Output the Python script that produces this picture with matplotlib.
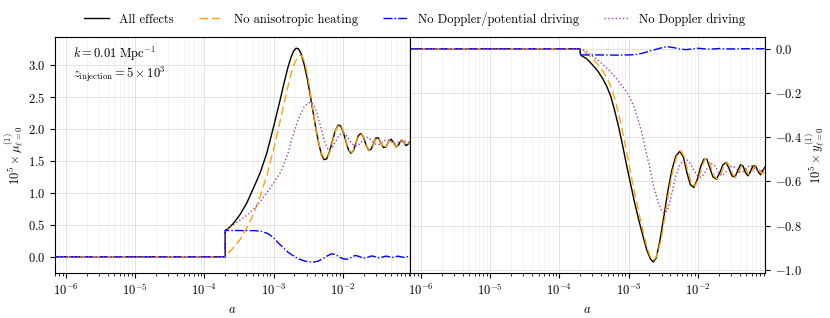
import matplotlib
matplotlib.use('Agg')
import matplotlib.pyplot as plt
import numpy as np

plt.rcParams['font.family'] = 'serif'
plt.rcParams['font.serif'] = ['cmr10']
plt.rcParams['mathtext.fontset'] = 'cm'
plt.rcParams['axes.formatter.use_mathtext'] = True
plt.rcParams['font.size'] = 9

# log10(a) nodes and values
# ---- left panel: 10^5 x mu ----
mu_all_lga = [-6.157, -3.699, -3.699, -3.658, -3.582, -3.485, -3.388, -3.293, -3.196, -3.099,
              -3.004, -2.907, -2.850, -2.792, -2.749, -2.712, -2.676, -2.640, -2.604, -2.561,
              -2.517, -2.474, -2.431, -2.387, -2.344, -2.308, -2.272, -2.236, -2.200, -2.156,
              -2.113, -2.070, -2.034, -1.997, -1.954, -1.918, -1.882, -1.846, -1.810, -1.774,
              -1.737, -1.701, -1.665, -1.629, -1.593, -1.557, -1.521, -1.485, -1.449, -1.412,
              -1.376, -1.340, -1.304, -1.268, -1.232, -1.196, -1.160, -1.124, -1.088, -1.059,
              -1.030]
mu_all = [0.0, 0.0, 0.41, 0.44, 0.52, 0.66, 0.84, 1.07, 1.31, 1.62,
          2.02, 2.45, 2.72, 2.97, 3.12, 3.22, 3.265, 3.255, 3.18, 3.02,
          2.80, 2.55, 2.27, 1.99, 1.75, 1.60, 1.52, 1.53, 1.62, 1.79,
          1.96, 2.06, 2.05, 1.96, 1.80, 1.67, 1.62, 1.66, 1.79, 1.90,
          1.93, 1.87, 1.75, 1.67, 1.68, 1.77, 1.86, 1.86, 1.77, 1.71,
          1.72, 1.80, 1.84, 1.79, 1.72, 1.75, 1.82, 1.80, 1.74, 1.76,
          1.80]

mu_noaniso_lga = [-6.157, -3.699, -3.658, -3.582, -3.485, -3.388, -3.293, -3.196, -3.099, -3.004,
                  -2.907, -2.850, -2.792, -2.749, -2.705, -2.662, -2.619, -2.582, -2.546, -2.510,
                  -2.474, -2.431, -2.387, -2.344, -2.301, -2.257, -2.221, -2.185, -2.142, -2.098,
                  -2.055, -2.019, -1.983, -1.940, -1.903, -1.867, -1.831, -1.795, -1.759, -1.723,
                  -1.687, -1.651, -1.615, -1.579, -1.543, -1.506, -1.470, -1.434, -1.398, -1.362,
                  -1.326, -1.290, -1.254, -1.218, -1.181, -1.145, -1.109, -1.073, -1.030]
mu_noaniso = [0.0, 0.0, 0.05, 0.14, 0.27, 0.45, 0.66, 0.94, 1.27, 1.66,
              2.12, 2.40, 2.67, 2.86, 3.01, 3.11, 3.155, 3.13, 3.03, 2.84,
              2.60, 2.29, 2.00, 1.76, 1.60, 1.53, 1.55, 1.65, 1.83, 1.99,
              2.07, 2.04, 1.93, 1.76, 1.66, 1.63, 1.70, 1.83, 1.92, 1.92,
              1.84, 1.72, 1.66, 1.70, 1.80, 1.87, 1.83, 1.74, 1.70, 1.75,
              1.83, 1.82, 1.75, 1.72, 1.78, 1.83, 1.78, 1.74, 1.79]

mu_nodp_lga = [-6.157, -3.699, -3.699, -3.485, -3.268, -3.167, -3.081, -3.004, -2.936, -2.860,
               -2.792, -2.715, -2.647, -2.571, -2.503, -2.426, -2.359, -2.286, -2.221, -2.164,
               -2.106, -2.041, -1.990, -1.940, -1.882, -1.824, -1.766, -1.704, -1.644, -1.586,
               -1.528, -1.477, -1.427, -1.376, -1.333, -1.290, -1.246, -1.203, -1.160, -1.116,
               -1.073, -1.030]
mu_nodp = [0.0, 0.0, 0.41, 0.41, 0.408, 0.395, 0.36, 0.30, 0.22, 0.14,
           0.07, 0.015, -0.03, -0.06, -0.08, -0.085, -0.07, -0.03, 0.015, 0.045,
           0.035, -0.01, -0.035, -0.04, -0.015, 0.02, 0.005, -0.025, -0.01, 0.012,
           0.0, -0.018, -0.005, 0.01, 0.0, -0.012, 0.0, 0.008, -0.002, -0.01,
           0.0, 0.005]

mu_nod_lga = [-6.157, -3.699, -3.699, -3.582, -3.485, -3.388, -3.293, -3.196, -3.099, -3.004,
              -2.907, -2.850, -2.792, -2.734, -2.676, -2.619, -2.561, -2.510, -2.467, -2.424,
              -2.380, -2.337, -2.294, -2.250, -2.207, -2.164, -2.113, -2.055, -1.997, -1.940,
              -1.882, -1.838, -1.795, -1.745, -1.694, -1.644, -1.593, -1.543, -1.492, -1.449,
              -1.398, -1.348, -1.304, -1.261, -1.218, -1.174, -1.131, -1.088, -1.030]
mu_nod = [0.0, 0.0, 0.41, 0.50, 0.57, 0.65, 0.74, 0.86, 1.00, 1.15,
          1.31, 1.45, 1.62, 1.85, 2.05, 2.22, 2.34, 2.40, 2.42, 2.38,
          2.27, 2.10, 1.92, 1.76, 1.67, 1.69, 1.79, 1.90, 1.94, 1.89,
          1.79, 1.74, 1.73, 1.78, 1.85, 1.87, 1.83, 1.77, 1.75, 1.77,
          1.82, 1.83, 1.80, 1.77, 1.78, 1.81, 1.82, 1.80, 1.78]

# ---- right panel: 10^5 x y ----
y_all_lga = [-6.157, -3.699, -3.699, -3.678, -3.606, -3.519, -3.447, -3.374, -3.316, -3.258,
             -3.201, -3.143, -3.085, -3.027, -2.969, -2.911, -2.853, -2.795, -2.738, -2.687,
             -2.643, -2.600, -2.549, -2.491, -2.434, -2.376, -2.318, -2.260, -2.209, -2.159,
             -2.108, -2.057, -2.007, -1.956, -1.913, -1.869, -1.826, -1.782, -1.732, -1.681,
             -1.638, -1.594, -1.551, -1.508, -1.464, -1.421, -1.385, -1.348, -1.312, -1.276,
             -1.240, -1.204, -1.167, -1.131, -1.095, -1.059, -1.030]
y_all = [0.0, 0.0, -0.022, -0.032, -0.045, -0.074, -0.10, -0.135, -0.17, -0.215,
         -0.28, -0.355, -0.44, -0.53, -0.615, -0.70, -0.775, -0.845, -0.91, -0.95,
         -0.965, -0.945, -0.87, -0.76, -0.645, -0.55, -0.485, -0.464, -0.49, -0.56,
         -0.615, -0.628, -0.59, -0.53, -0.50, -0.50, -0.54, -0.58, -0.59, -0.56,
         -0.525, -0.515, -0.54, -0.575, -0.58, -0.55, -0.525, -0.53, -0.56, -0.575,
         -0.555, -0.53, -0.53, -0.555, -0.57, -0.55, -0.535]

y_noaniso_lga = [-6.157, -3.699, -3.678, -3.606, -3.519, -3.447, -3.374, -3.316, -3.258, -3.201,
                 -3.143, -3.085, -3.027, -2.969, -2.911, -2.853, -2.795, -2.738, -2.687, -2.643,
                 -2.600, -2.534, -2.476, -2.419, -2.361, -2.303, -2.245, -2.194, -2.144, -2.093,
                 -2.042, -1.992, -1.941, -1.898, -1.854, -1.811, -1.767, -1.717, -1.666, -1.623,
                 -1.579, -1.536, -1.493, -1.449, -1.406, -1.370, -1.333, -1.297, -1.261, -1.225,
                 -1.189, -1.152, -1.116, -1.080, -1.044, -1.030]
y_noaniso = [0.0, 0.0, -0.008, -0.022, -0.045, -0.07, -0.10, -0.13, -0.17, -0.225,
             -0.295, -0.38, -0.47, -0.565, -0.655, -0.74, -0.82, -0.895, -0.94, -0.958,
             -0.94, -0.87, -0.76, -0.645, -0.55, -0.485, -0.462, -0.49, -0.555, -0.61,
             -0.622, -0.59, -0.535, -0.50, -0.498, -0.535, -0.575, -0.59, -0.565, -0.53,
             -0.512, -0.535, -0.57, -0.58, -0.555, -0.53, -0.528, -0.55, -0.57, -0.56,
             -0.535, -0.528, -0.545, -0.565, -0.56, -0.55]

y_nodp_lga = [-6.157, -3.699, -3.699, -3.418, -3.128, -2.911, -2.795, -2.694, -2.593, -2.506,
              -2.434, -2.347, -2.260, -2.173, -2.086, -1.999, -1.913, -1.826, -1.681, -1.536,
              -1.319, -1.030]
y_nodp = [0.0, 0.0, -0.028, -0.028, -0.029, -0.027, -0.02, -0.01, -0.002, 0.006,
          0.009, 0.005, -0.001, -0.004, -0.001, 0.002, 0.0, -0.002, 0.001, -0.001,
          0.0, 0.0]

y_nod_lga = [-6.157, -3.699, -3.620, -3.533, -3.447, -3.360, -3.273, -3.186, -3.114, -3.041,
             -2.984, -2.926, -2.868, -2.810, -2.752, -2.694, -2.636, -2.578, -2.528, -2.477,
             -2.426, -2.376, -2.318, -2.260, -2.209, -2.159, -2.108, -2.057, -2.007, -1.956,
             -1.905, -1.855, -1.804, -1.753, -1.703, -1.652, -1.602, -1.551, -1.500, -1.450,
             -1.399, -1.348, -1.298, -1.247, -1.196, -1.146, -1.088, -1.030]
y_nod = [0.0, 0.0, -0.01, -0.03, -0.05, -0.075, -0.10, -0.13, -0.16, -0.19,
         -0.22, -0.26, -0.315, -0.38, -0.46, -0.54, -0.625, -0.69, -0.73, -0.745,
         -0.72, -0.655, -0.575, -0.525, -0.505, -0.502, -0.52, -0.55, -0.575, -0.583,
         -0.565, -0.535, -0.52, -0.53, -0.56, -0.575, -0.56, -0.54, -0.53, -0.54,
         -0.558, -0.556, -0.54, -0.527, -0.535, -0.55, -0.552, -0.54]

labels = ['All effects', 'No anisotropic heating', 'No Doppler/potential driving', 'No Doppler driving']
colors = ['black', 'orange', 'blue', '#a040b0']
styles = ['-', (0, (6, 3)), '-.', ':']

fig, (ax1, ax2) = plt.subplots(1, 2, figsize=(8.3, 3.18), dpi=100)
fig.subplots_adjust(left=0.0663, right=0.9217, top=0.8836, bottom=0.1425, wspace=0)

left_sets = [(mu_all_lga, mu_all), (mu_noaniso_lga, mu_noaniso), (mu_nodp_lga, mu_nodp), (mu_nod_lga, mu_nod)]
right_sets = [(y_all_lga, y_all), (y_noaniso_lga, y_noaniso), (y_nodp_lga, y_nodp), (y_nod_lga, y_nod)]

for ax, sets in [(ax1, left_sets), (ax2, right_sets)]:
    for (lga, vals), lab, c, ls in zip(sets, labels, colors, styles):
        ax.plot(10 ** np.array(lga), vals, color=c, ls=ls, lw=1.0, label=lab)
    ax.set_xscale('log')
    ax.set_xlim(10 ** -6.157, 10 ** -1.03)
    ax.set_xlabel(r'$a$')
    ax.grid(True, which='major', color='#dddddd', lw=0.6)
    ax.grid(True, which='minor', axis='x', color='#eeeeee', lw=0.5)
    ax.tick_params(which='major', length=3.5, width=0.8)
    ax.tick_params(which='minor', length=2, width=0.6)

ax1.set_ylim(-0.25, 3.44)
ax1.set_yticks([0.0, 0.5, 1.0, 1.5, 2.0, 2.5, 3.0])
ax1.set_ylabel(r'$10^5 \times \mu^{(1)}_{\ell=0}$', labelpad=2)
# annotation, positioned by baseline
ax1.text(0.05, 0.91, r'$k = 0.01\ \mathrm{Mpc}^{-1}$', transform=ax1.transAxes, va='baseline')
ax1.text(0.05, 0.828, r'$z_\mathrm{injection} = 5 \times 10^3$', transform=ax1.transAxes, va='baseline')

ax2.set_ylim(-1.013, 0.053)
ax2.set_yticks([-1.0, -0.8, -0.6, -0.4, -0.2, 0.0])
ax2.yaxis.tick_right()
ax2.yaxis.set_label_position('right')
ax2.set_ylabel(r'$10^5 \times y^{(1)}_{\ell=0}$', labelpad=1)

handles, labs = ax1.get_legend_handles_labels()
fig.legend(handles, labs, loc='center', bbox_to_anchor=(0.5, 0.94), ncol=4, frameon=False,
           handlelength=2.0, columnspacing=2.0)

fig.savefig('out.png', dpi=100)
